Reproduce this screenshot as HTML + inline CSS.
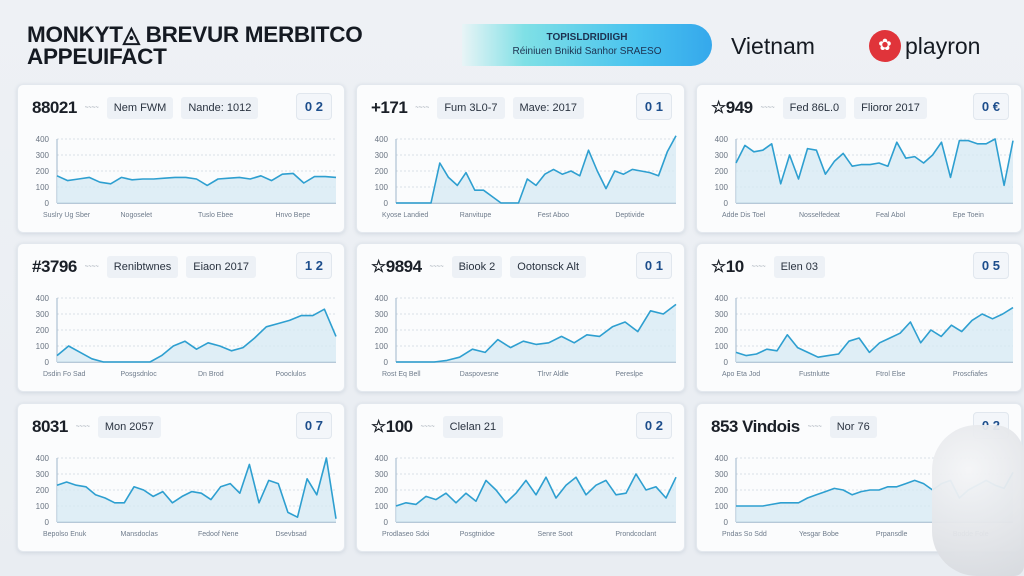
<!DOCTYPE html>
<html><head><meta charset="utf-8"><style>
html,body{margin:0;padding:0}
body{width:1024px;height:576px;overflow:hidden;background:linear-gradient(180deg,#eef1f5,#e9edf2);font-family:"Liberation Sans",sans-serif;position:relative}
.card{position:absolute;background:#fbfcfd;border-radius:6px;box-shadow:0 1px 4px rgba(90,110,140,.18);border:1px solid #e3e8ee}
.hdr{position:absolute;left:14px;top:12px;display:flex;align-items:center;gap:8px;font-size:11px;color:#2a3340}
.big{font-size:17px;font-weight:bold;color:#1a1f27;letter-spacing:-.5px}
.sm{font-size:6px;color:#8a94a2}
.tag{background:#edf1f6;padding:5px 7px;border-radius:3px}
.num{position:absolute;right:12px;top:8px;border:1px solid #e1e7ee;background:#f3f6fa;border-radius:4px;padding:5px 8px;font-weight:bold;color:#1d4e8c;font-size:13px}
svg.ch{position:absolute;left:0;top:0}
</style></head><body>
<div style="position:absolute;left:27px;top:24px;font-weight:bold;font-size:22.5px;line-height:22px;color:#151a22;letter-spacing:-.3px">MONKYT◬ BREVUR MERBITCO<br>APPEUIFACT</div>
<div style="position:absolute;left:462px;top:24px;width:250px;height:42px;border-radius:0 22px 22px 0;background:linear-gradient(90deg,#e8f4f6,#7fe0e6 25%,#49c3ef 70%,#35a8ec);text-align:center;font-size:10px;color:#1c3150">
<div style="font-weight:bold;margin-top:8px;font-size:10px">TOPISLDRIDIIGH</div><div style="margin-top:3px">Réiniuen Bnikid Sanhor SRAESO</div></div>
<div style="position:absolute;left:731px;top:33px;font-size:23px;color:#151a22">Vietnam</div>
<div style="position:absolute;left:869px;top:30px;display:flex;align-items:center;gap:4px;font-size:23px;color:#151a22"><span style="display:inline-block;width:32px;height:32px;border-radius:50%;background:#e0343a;color:#fff;font-size:16px;text-align:center;line-height:32px">✿</span>playron</div>
<div id="grid"></div>
<div style="position:absolute;left:932px;top:425px;width:92px;height:151px;border-radius:45px 30px 10px 45px;background:radial-gradient(circle at 40% 30%,#f4f5f7,#d6d9de);opacity:.95"></div>
<script>
const tickVals=[0,100,200,300,400];
const xLabels=[["Suslry Ug Sber","Nogoselet","Tuslo Ebee","Hnvo Bepe"],["Kyose Landied","Ranvitupe","Fest Aboo","Deptivide"],["Adde Dis Toel","Nosselfedeat","Feal Abol","Epe Toein"],["Dsdin Fo Sad","Posgsdnloc","Dn Brod","Pooclulos"],["Rost Eq Bell","Daspovesne","Tlrvr Aldle","Pereslpe"],["Apo Eta Jod","Fustnlutte","Ftrol Else","Proscfiafes"],["Bepolso Enuk","Mansdoclas","Fedoof Nene","Dsevbsad"],["Prodlaseo Sdoi","Posgtnidoe","Senre Soot","Prondcoclant"],["Pndas So Sdd","Yesgar Bobe","Prpansdle","Bodde Fole"]];
const titles=[["88021","Nem FWM","Nande: 1012","0 2"],["+171","Fum 3L0-7","Mave: 2017","0 1"],["☆949","Fed 86L.0","Flioror 2017","0 €"],["#3796","Renibtwnes","Eiaon 2017","1 2"],["☆9894","Biook 2","Ootonsck Alt","0 1"],["☆10","Elen 03","","0 5"],["8031","Mon 2057","","0 7"],["☆100","Clelan 21","","0 2"],["853 Vindois","Nor 76","","0 2"]];
const s1=[170,140,150,160,130,120,160,145,150,150,155,160,160,150,110,150,155,160,150,170,140,180,185,125,165,165,160];
const s2=[0,0,0,0,0,250,160,110,190,80,80,40,0,0,0,150,110,180,210,180,200,170,330,200,90,200,180,210,200,190,170,320,420];
const s3=[250,360,320,330,370,120,300,150,340,330,180,260,310,230,240,240,250,230,380,280,290,250,300,380,160,390,390,370,370,400,110,390];
const s4=[40,100,60,20,0,0,0,0,0,40,100,130,80,120,100,70,90,150,220,240,260,290,290,330,160];
const s5=[0,0,0,0,10,30,80,60,140,90,130,110,120,160,120,170,160,220,250,190,320,300,360];
const s6=[60,40,50,80,70,170,90,60,30,40,50,130,150,60,120,150,180,250,120,200,160,230,190,260,300,270,300,340];
const s7=[230,250,230,220,170,150,120,120,220,200,160,190,120,160,190,180,140,220,240,180,360,120,260,240,60,30,270,170,400,20];
const s8=[100,120,110,160,140,180,120,180,130,260,200,120,180,260,170,280,150,230,280,170,230,260,170,180,300,200,220,150,280];
const s9=[100,100,100,100,110,120,120,120,150,170,190,210,200,170,190,200,200,220,220,240,260,240,200,240,260,150,200,230,260,230,210,310];
const series=[s1,s2,s3,s4,s5,s6,s7,s8,s9];
const cols=[[17,326],[356,327],[696,324]];
const rows=[84,243,403];
const grid=document.getElementById('grid');
function yScale(v,top,bot){return bot-(v/400)*(bot-top);}
function xScale(i,n,l,r){return l+i*(r-l)/(n-1);}
for(let k=0;k<9;k++){
  const [cx,w]=cols[k%3];const cy=rows[Math.floor(k/3)];const h=147;
  const card=document.createElement('div');
  card.className='card';
  
  
  card.style.cssText=`left:${cx}px;top:${cy}px;width:${w}px;height:${h}px`;
  const t=titles[k];
  let hd=`<div class="hdr"><span class="big">${t[0]}</span><span class="sm">~~~~</span><span class="tag">${t[1]}</span>${t[2]?`<span class="tag">${t[2]}</span>`:''}</div><div class="num">${t[3]}</div>`;
  card.innerHTML=hd;
  card.querySelector('.hdr');
  card.querySelector('.hdr');
  card.querySelector('.num');
  card.querySelector('.num');
  const L=39,R=w-8,T=54,B=118;
  const NS='http://www.w3.org/2000/svg';
  const svg=document.createElementNS(NS,'svg');
  svg.setAttribute('class','ch');svg.setAttribute('width',w);svg.setAttribute('height',h);
  
  
  let s='';
  tickVals.forEach(v=>{const y=yScale(v,T,B);
    if(v>0)s+=`<line x1="${L}" x2="${R}" y1="${y}" y2="${y}" stroke="#cfd7e0" stroke-dasharray="2,2" stroke-width="0.7"/>`;
    s+=`<text x="${L-8}" y="${y+3}" font-size="8" fill="#6a7482" text-anchor="end">${v}</text>`;});
  s+=`<line x1="${L}" x2="${R}" y1="${B}" y2="${B}" stroke="#9fb6cb" stroke-width="1.5"/><line x1="${L}" x2="${L}" y1="${T}" y2="${B}" stroke="#9fb6cb" stroke-width="1"/>`;
  const d=series[k];const pts=d.map((v,i)=>[xScale(i,d.length,L,R),yScale(v,T,B)]);
  const ln=pts.map(p=>p[0].toFixed(1)+','+p[1].toFixed(1)).join(' ');
  s+=`<polygon points="${L},${B} ${ln} ${R},${B}" fill="#d5e9f3" opacity="0.75"/>`;
  s+=`<polyline points="${ln}" fill="none" stroke="#2e9fd0" stroke-width="1.6" stroke-linejoin="round"/>`;
  xLabels[k].forEach((lb,i)=>{const x=L-14+i*(R-L)/3.6;s+=`<text x="${x}" y="${B+14}" font-size="7" fill="#6f7c8c">${lb}</text>`;});
  svg.innerHTML=s;
  card.appendChild(svg);
  grid.appendChild(card);
}
</script>
</body></html>
